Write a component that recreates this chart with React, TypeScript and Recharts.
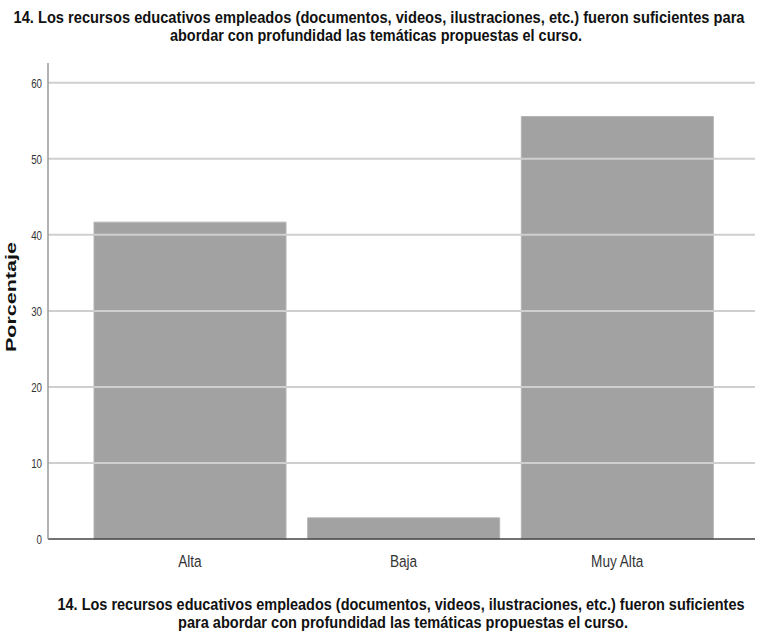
import { BarChart, Bar, XAxis, YAxis, ReferenceLine } from "recharts";

const categorias = ["Alta", "Baja", "Muy Alta"];
const porcentajes = [41.67, 2.78, 55.56];
const ticksY = [0, 10, 20, 30, 40, 50, 60];

const titulo1 =
  "14. Los recursos educativos empleados (documentos, videos, ilustraciones, etc.) fueron suficientes para";
const titulo2 = "abordar con profundidad las temáticas propuestas el curso.";
const pie1 =
  "14. Los recursos educativos empleados (documentos, videos, ilustraciones, etc.) fueron suficientes";
const pie2 = "para abordar con profundidad las temáticas propuestas el curso.";

const sans = '"Liberation Sans", Arial, sans-serif';

const data = categorias.map((c, i) => ({ categoria: c, valor: porcentajes[i] }));

// texto comprimido tipo Arial Narrow
function Linea({ x, y, w, text }: { x: number; y: number; w: number; text: string }) {
  return (
    <text
      x={x}
      y={y}
      textAnchor="middle"
      textLength={w}
      lengthAdjust="spacingAndGlyphs"
      fontFamily={sans}
      fontWeight={700}
      fontSize={17}
      fill="#111"
    >
      {text}
    </text>
  );
}

// eslint-disable-next-line @typescript-eslint/no-explicit-any
const TickX = ({ x, y, payload }: any) => (
  <text
    transform={`translate(${x}, ${y}) scale(0.8, 1)`}
    textAnchor="middle"
    fontFamily={sans}
    fontSize={17}
    fill="#333"
  >
    {payload.value}
  </text>
);

// eslint-disable-next-line @typescript-eslint/no-explicit-any
const TickY = ({ x, y, payload }: any) => (
  <text
    transform={`translate(${x}, ${y + 5}) scale(0.75, 1)`}
    textAnchor="end"
    fontFamily={sans}
    fontSize={13}
    fill="#333"
  >
    {payload.value}
  </text>
);

export default function App() {
  return (
    <div style={{ position: "absolute", left: 0, top: 0, width: 757, height: 635, background: "#fff" }}>
      <BarChart
        width={757}
        height={635}
        data={data}
        margin={{ top: 63, right: 2, left: 0, bottom: 56 }}
        barSize={192}
      >
        <XAxis
          dataKey="categoria"
          padding={{ left: 35, right: 31 }}
          tickLine={false}
          tickSize={0}
          tickMargin={28}
          axisLine={false}
          height={40}
          tick={<TickX />}
        />
        <YAxis
          domain={[0, 62.6]}
          ticks={ticksY}
          width={48}
          tickLine={false}
          tickSize={0}
          tickMargin={6}
          axisLine={{ stroke: "#999", strokeWidth: 1.5 }}
          tick={<TickY />}
        />
        {ticksY.slice(1).map((t) => (
          <ReferenceLine key={t} y={t} stroke="#cfcfcf" strokeWidth={2} />
        ))}
        <Bar dataKey="valor" fill="#a2a2a2" stroke="#b4b4b4" strokeWidth={1} isAnimationActive={false} />
        <ReferenceLine y={0} stroke="#444" strokeWidth={1.5} />
      </BarChart>

      <svg width={757} height={635} style={{ position: "absolute", left: 0, top: 0, pointerEvents: "none" }}>
        <Linea x={379} y={23} w={731} text={titulo1} />
        <Linea x={376} y={41} w={412} text={titulo2} />
        <text
          x={0}
          y={0}
          transform="translate(16, 297) rotate(-90)"
          textAnchor="middle"
          textLength={110}
          lengthAdjust="spacingAndGlyphs"
          fontFamily={sans}
          fontWeight={700}
          fontSize={15}
          fill="#111"
        >
          Porcentaje
        </text>
        <Linea x={401} y={610} w={687} text={pie1} />
        <Linea x={403} y={628} w={450} text={pie2} />
      </svg>
    </div>
  );
}
